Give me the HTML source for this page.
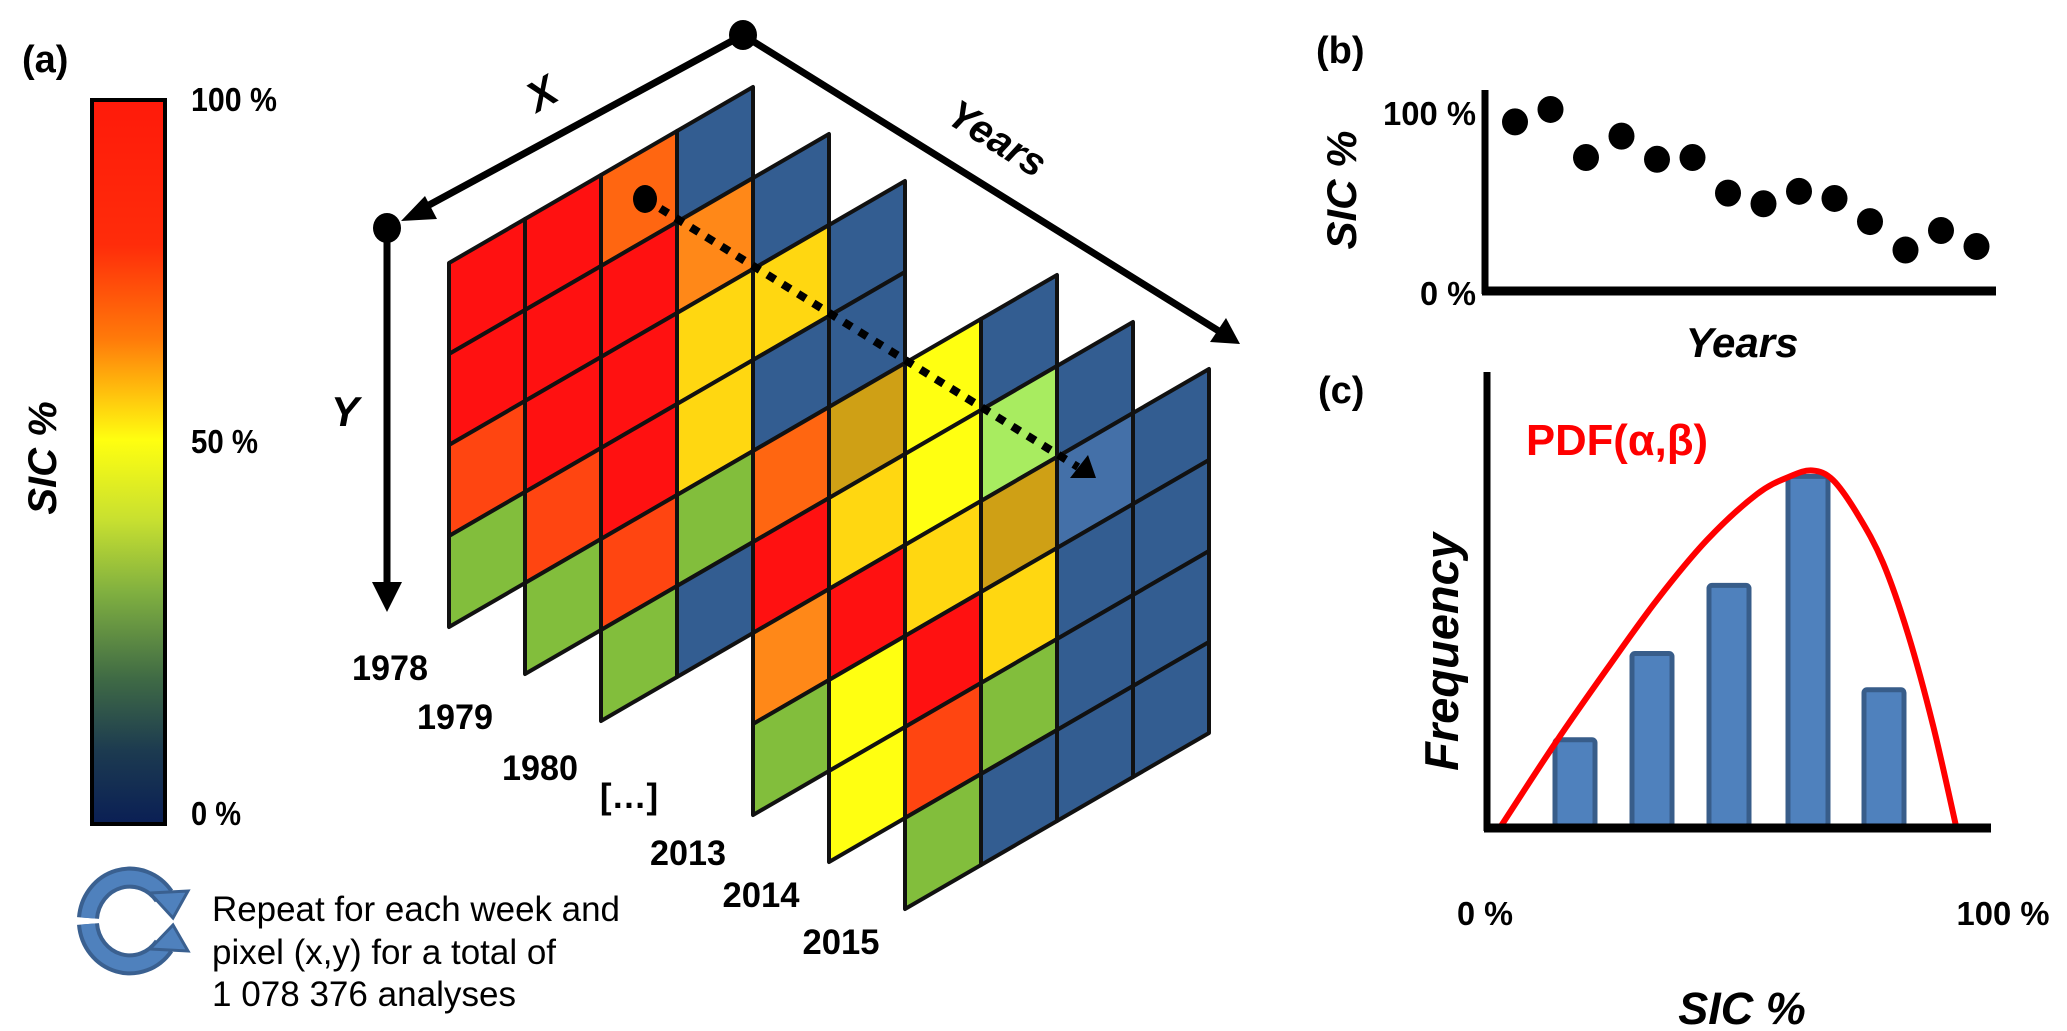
<!DOCTYPE html>
<html><head><meta charset="utf-8"><style>
html,body{margin:0;padding:0;background:#fff;}
svg{display:block;font-family:"Liberation Sans",Arial,sans-serif;}
</style></head><body>
<svg id="fig" width="2067" height="1031" viewBox="0 0 2067 1031" xmlns="http://www.w3.org/2000/svg">
<defs>
<linearGradient id="cbg" x1="0" y1="0" x2="0" y2="1">
<stop offset="0" stop-color="#ff1a0a"/><stop offset="0.2" stop-color="#ff2c0a"/>
<stop offset="0.33" stop-color="#ff7a0a"/><stop offset="0.47" stop-color="#ffff10"/>
<stop offset="0.58" stop-color="#c8e030"/><stop offset="0.68" stop-color="#80b040"/>
<stop offset="0.8" stop-color="#3f6a45"/><stop offset="0.9" stop-color="#1c3a50"/>
<stop offset="1" stop-color="#0a1f55"/></linearGradient>
</defs>

<!-- Panel (a) -->
<text x="22" y="72" font-size="38" font-weight="bold">(a)</text>
<rect x="92" y="100" width="73" height="724" fill="url(#cbg)" stroke="#000" stroke-width="4"/>
<text x="191" y="111" font-size="33" font-weight="bold" textLength="86" lengthAdjust="spacingAndGlyphs">100 %</text>
<text x="191" y="453" font-size="33" font-weight="bold" textLength="67" lengthAdjust="spacingAndGlyphs">50 %</text>
<text x="191" y="825" font-size="33" font-weight="bold" textLength="50" lengthAdjust="spacingAndGlyphs">0 %</text>
<text transform="translate(56,458) rotate(-90)" text-anchor="middle" font-size="40" font-weight="bold" font-style="italic">SIC %</text>

<g id="grid"></g>

<!-- axes of cube -->
<line x1="743" y1="35" x2="418" y2="211" stroke="#000" stroke-width="7"/>
<polygon points="401,221 425,196 437,219" fill="#000"/>
<line x1="743" y1="35" x2="1222" y2="333" stroke="#000" stroke-width="7"/>
<polygon points="1240,344 1210,342 1226,318" fill="#000"/>
<line x1="387" y1="228" x2="387" y2="590" stroke="#000" stroke-width="7"/>
<polygon points="372,582 402,582 387,612" fill="#000"/>
<ellipse cx="743" cy="35" rx="14" ry="15" fill="#000"/>
<ellipse cx="387" cy="228" rx="14" ry="15" fill="#000"/>
<text transform="translate(549,106) rotate(-30)" text-anchor="middle" font-size="42" font-weight="bold" font-style="italic">X</text>
<text x="345" y="426" text-anchor="middle" font-size="42" font-weight="bold" font-style="italic">Y</text>
<text transform="translate(990,150) rotate(32)" text-anchor="middle" font-size="40" font-weight="bold" font-style="italic">Years</text>

<!-- pixel time-series dotted arrow -->
<line x1="645" y1="199" x2="1078" y2="467" stroke="#000" stroke-width="8" stroke-dasharray="9,9"/>
<polygon points="1096,478 1070,478 1088,455" fill="#000"/>
<ellipse cx="645" cy="199" rx="12" ry="14" fill="#000"/>

<!-- year labels -->
<g font-size="35" font-weight="bold" text-anchor="middle">
<text x="390" y="680" textLength="76" lengthAdjust="spacingAndGlyphs">1978</text>
<text x="455" y="729" textLength="76" lengthAdjust="spacingAndGlyphs">1979</text>
<text x="540" y="780" textLength="76" lengthAdjust="spacingAndGlyphs">1980</text>
<text x="629" y="808">[…]</text>
<text x="688" y="865" textLength="76" lengthAdjust="spacingAndGlyphs">2013</text>
<text x="761" y="907" textLength="77" lengthAdjust="spacingAndGlyphs">2014</text>
<text x="841" y="954" textLength="77" lengthAdjust="spacingAndGlyphs">2015</text>
</g>

<!-- repeat icon -->
<g>
<path d="M88,918 A42,44 0 0 1 164,896" fill="none" stroke="#3a6090" stroke-width="22"/>
<path d="M88,918 A42,44 0 0 1 164,896" fill="none" stroke="#4f81bd" stroke-width="14"/>
<polygon points="150,893 188,891 173,918" fill="#4f81bd" stroke="#3a6090" stroke-width="3"/>
<path d="M88,924 A42,44 0 0 0 164,946" fill="none" stroke="#3a6090" stroke-width="22"/>
<path d="M88,924 A42,44 0 0 0 164,946" fill="none" stroke="#4f81bd" stroke-width="14"/>
<polygon points="150,949 188,951 173,925" fill="#4f81bd" stroke="#3a6090" stroke-width="3"/>
</g>
<g font-size="35">
<text x="212" y="921" textLength="408" lengthAdjust="spacingAndGlyphs">Repeat for each week and</text>
<text x="212" y="964" textLength="344" lengthAdjust="spacingAndGlyphs">pixel (x,y) for a total of</text>
<text x="212" y="1006" textLength="304" lengthAdjust="spacingAndGlyphs">1 078 376 analyses</text>
</g>

<!-- Panel (b) -->
<text x="1316" y="63" font-size="38" font-weight="bold">(b)</text>
<g id="panelb"></g>
<line x1="1485" y1="90" x2="1485" y2="294" stroke="#000" stroke-width="7"/>
<line x1="1482" y1="291" x2="1996" y2="291" stroke="#000" stroke-width="9"/>
<text x="1476" y="125" text-anchor="end" font-size="33" font-weight="bold" textLength="93" lengthAdjust="spacingAndGlyphs">100 %</text>
<text x="1476" y="305" text-anchor="end" font-size="33" font-weight="bold" textLength="56" lengthAdjust="spacingAndGlyphs">0 %</text>
<text transform="translate(1356,190) rotate(-90)" text-anchor="middle" font-size="42" font-weight="bold" font-style="italic">SIC %</text>
<text x="1742" y="357" text-anchor="middle" font-size="42" font-weight="bold" font-style="italic">Years</text>

<!-- Panel (c) -->
<text x="1318" y="403" font-size="38" font-weight="bold">(c)</text>
<g id="panelc"></g>
<line x1="1487" y1="372" x2="1487" y2="831" stroke="#000" stroke-width="7"/>
<line x1="1484" y1="828" x2="1991" y2="828" stroke="#000" stroke-width="9"/>
<text x="1485" y="925" text-anchor="middle" font-size="33" font-weight="bold" textLength="56" lengthAdjust="spacingAndGlyphs">0 %</text>
<text x="2003" y="925" text-anchor="middle" font-size="33" font-weight="bold" textLength="93" lengthAdjust="spacingAndGlyphs">100 %</text>
<text x="1742" y="1024" text-anchor="middle" font-size="45" font-weight="bold" font-style="italic">SIC %</text>
<text transform="translate(1458,652) rotate(-90)" text-anchor="middle" font-size="47" font-weight="bold" font-style="italic">Frequency</text>
<text x="1526" y="455" font-size="44" font-weight="bold" fill="#ff0000" textLength="182" lengthAdjust="spacingAndGlyphs">PDF(α,β)</text>
</svg>

<script>
// ----- Panel (b) data -----
var bYears = [0,1,2,3,4,5,6,7,8,9,10,11,12,13];
var bSIC = [95,102,75,87,74,75,55,49,56,52,39,23,34,25];
// ----- Panel (c) data -----
var cBins = [17,32.4,47.8,63.6,78.8];
var cFreq = [19,38,53,77,30];
var pdfX = [2.2,13.2,23.4,33.4,43.4,53.4,60,64.5,68.6,73.6,78.6,83.6,88.6,93.2];
var pdfY = [0,18.5,34.6,49.8,63,73.1,77,78.3,76.2,68.5,58,42.3,22.2,0];
// ----- Grid (a) data: visible cell colours per global column, starting row -----
var gridStart = [0,0,0,0,1,2,4,4,5,6];
var gridCols = ["RROG","RRROG","MRRROG","BLYYGB","BYBMRLG","BBDYRWW","WWYROG","BNDYGB","BCBBB","BBBB"];
var palette = {R:"#ff1111",O:"#ff4511",M:"#ff6611",L:"#ff8818",Y:"#ffd711",W:"#ffff11",D:"#cfa015",G:"#82be3c",N:"#a8ec60",B:"#335d91",C:"#4470a8"};

var NS = "http://www.w3.org/2000/svg";
function mk(tag, attrs, parent){var e=document.createElementNS(NS,tag);for(var k in attrs)e.setAttribute(k,attrs[k]);parent.appendChild(e);return e;}

// grid
var g = document.getElementById("grid");
var X0=449, Y0=263, CW=76, SH=44, RH=91;
gridCols.forEach(function(col, gc){
  for (var i=0;i<col.length;i++){
    var gr = gridStart[gc]+i;
    var x = X0+CW*gc, y = Y0-SH*gc+RH*gr;
    var p = mk("polygon",{points:x+","+y+" "+(x+CW)+","+(y-SH)+" "+(x+CW)+","+(y-SH+RH)+" "+x+","+(y+RH),fill:palette[col[i]],stroke:"#111","stroke-width":4,"stroke-linejoin":"round"},g);
    
    
  }
});

// panel b
var pb = document.getElementById("panelb");
function bx(i){return 1515+i*35.5;}
function by(v){return 291-v*1.78;}
bYears.forEach(function(yr,i){
  var c = mk("ellipse",{cx:bx(yr),cy:by(bSIC[i]),rx:13,ry:13.5,fill:"#000"},pb);
  
  
});

// panel c
var pc = document.getElementById("panelc");
function cx(v){return 1490+v*5;}
function cy(v){return 826-v*4.54;}
cBins.forEach(function(b,i){
  var top = cy(cFreq[i]);
  var r = mk("rect",{x:cx(b)-20,y:top,width:40,height:826-top,rx:3,fill:"#4f81bd",stroke:"#385d8a","stroke-width":5},pc);
  
  
});
var pts = pdfX.map(function(x,i){return [cx(x),cy(pdfY[i])];});
var d = "M"+pts[0][0]+","+pts[0][1];
for (var i=0;i<pts.length-1;i++){
  var p0=pts[Math.max(0,i-1)], p1=pts[i], p2=pts[i+1], p3=pts[Math.min(pts.length-1,i+2)];
  var c1x=p1[0]+(p2[0]-p0[0])/6, c1y=p1[1]+(p2[1]-p0[1])/6;
  var c2x=p2[0]-(p3[0]-p1[0])/6, c2y=p2[1]-(p3[1]-p1[1])/6;
  d += " C"+c1x+","+c1y+" "+c2x+","+c2y+" "+p2[0]+","+p2[1];
}
var curve = mk("path",{d:d,fill:"none",stroke:"#ff0000","stroke-width":6},pc);


</script>
</body></html>
